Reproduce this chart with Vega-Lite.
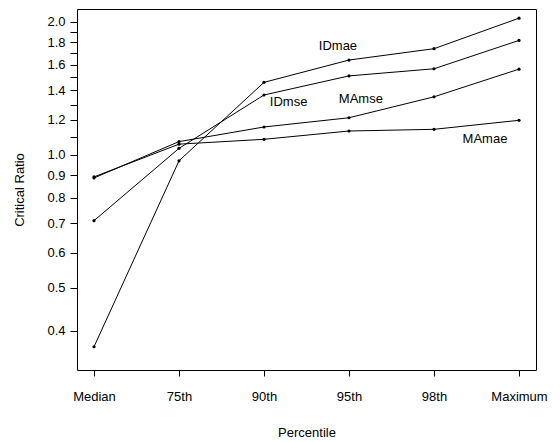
{
  "$schema": "https://vega.github.io/schema/vega-lite/v6.json",
  "autosize": {"type": "none"},
  "padding": {"left": 77, "top": 9, "right": 24, "bottom": 72},
  "width": 459,
  "height": 361,
  "config": {
    "view": {"stroke": "black", "strokeWidth": 1},
    "font": "Liberation Sans",
    "axis": {
      "domain": false,
      "grid": false,
      "tickColor": "black",
      "tickSize": 7,
      "labelColor": "black",
      "labelFont": "Liberation Sans",
      "labelFontSize": 13,
      "titleFont": "Liberation Sans",
      "titleFontSize": 13,
      "titleFontWeight": "normal",
      "titleColor": "black"
    }
  },
  "datasets": {
    "series": [
      {"pct": "Median", "i": 0, "series": "IDmae", "ratio": 0.368},
      {"pct": "75th", "i": 1, "series": "IDmae", "ratio": 0.97},
      {"pct": "90th", "i": 2, "series": "IDmae", "ratio": 1.46},
      {"pct": "95th", "i": 3, "series": "IDmae", "ratio": 1.64},
      {"pct": "98th", "i": 4, "series": "IDmae", "ratio": 1.74},
      {"pct": "Maximum", "i": 5, "series": "IDmae", "ratio": 2.04},
      {"pct": "Median", "i": 0, "series": "IDmse", "ratio": 0.71},
      {"pct": "75th", "i": 1, "series": "IDmse", "ratio": 1.035},
      {"pct": "90th", "i": 2, "series": "IDmse", "ratio": 1.367},
      {"pct": "95th", "i": 3, "series": "IDmse", "ratio": 1.51},
      {"pct": "98th", "i": 4, "series": "IDmse", "ratio": 1.567},
      {"pct": "Maximum", "i": 5, "series": "IDmse", "ratio": 1.817},
      {"pct": "Median", "i": 0, "series": "MAmse", "ratio": 0.887},
      {"pct": "75th", "i": 1, "series": "MAmse", "ratio": 1.072},
      {"pct": "90th", "i": 2, "series": "MAmse", "ratio": 1.157},
      {"pct": "95th", "i": 3, "series": "MAmse", "ratio": 1.214},
      {"pct": "98th", "i": 4, "series": "MAmse", "ratio": 1.354},
      {"pct": "Maximum", "i": 5, "series": "MAmse", "ratio": 1.564},
      {"pct": "Median", "i": 0, "series": "MAmae", "ratio": 0.892},
      {"pct": "75th", "i": 1, "series": "MAmae", "ratio": 1.058},
      {"pct": "90th", "i": 2, "series": "MAmae", "ratio": 1.085},
      {"pct": "95th", "i": 3, "series": "MAmae", "ratio": 1.133},
      {"pct": "98th", "i": 4, "series": "MAmae", "ratio": 1.143},
      {"pct": "Maximum", "i": 5, "series": "MAmae", "ratio": 1.198}
    ],
    "labels": [
      {"label": "IDmae", "i": 2.87, "ratio": 1.765},
      {"label": "IDmse", "i": 2.29, "ratio": 1.318},
      {"label": "MAmse", "i": 3.14, "ratio": 1.339},
      {"label": "MAmae", "i": 4.6, "ratio": 1.087}
    ]
  },
  "layer": [
    {
      "mark": {"type": "rule", "color": "#999", "strokeDash": [1, 2], "strokeWidth": 1},
      "encoding": {"y": {"datum": 1.0, "type": "quantitative"}}
    },
    {
      "data": {"name": "series"},
      "mark": {"type": "line", "color": "black", "strokeWidth": 1},
      "encoding": {
        "x": {
          "field": "i", "type": "quantitative",
          "scale": {"domain": [-0.2, 5.2], "nice": false, "zero": false},
          "axis": {
            "values": [0, 1, 2, 3, 4, 5],
            "labelExpr": "['Median','75th','90th','95th','98th','Maximum'][datum.value]",
            "labelPadding": 14,
            "tickSize": 6,
            "title": "Percentile",
            "titlePadding": 23
          }
        },
        "y": {
          "field": "ratio", "type": "quantitative",
          "scale": {"type": "log", "domain": [0.326, 2.14], "nice": false, "zero": false},
          "axis": {
            "values": [0.4, 0.5, 0.6, 0.7, 0.8, 0.9, 1.0, 1.1, 1.2, 1.3, 1.4, 1.5, 1.6, 1.7, 1.8, 1.9, 2.0],
            "labelExpr": "(datum.value > 1.05 && round(datum.value * 10) % 2 == 1) ? '' : format(datum.value, '.1f')",
            "labelPadding": 5,
            "title": "Critical Ratio",
            "titlePadding": 20
          }
        },
        "detail": {"field": "series"}
      }
    },
    {
      "data": {"name": "series"},
      "mark": {"type": "point", "filled": true, "color": "black", "size": 10, "opacity": 1},
      "encoding": {
        "x": {"field": "i", "type": "quantitative"},
        "y": {"field": "ratio", "type": "quantitative"}
      }
    },
    {
      "data": {"name": "labels"},
      "mark": {"type": "text", "color": "black", "fontSize": 13, "font": "Liberation Sans"},
      "encoding": {
        "x": {"field": "i", "type": "quantitative"},
        "y": {"field": "ratio", "type": "quantitative"},
        "text": {"field": "label"}
      }
    }
  ]
}
